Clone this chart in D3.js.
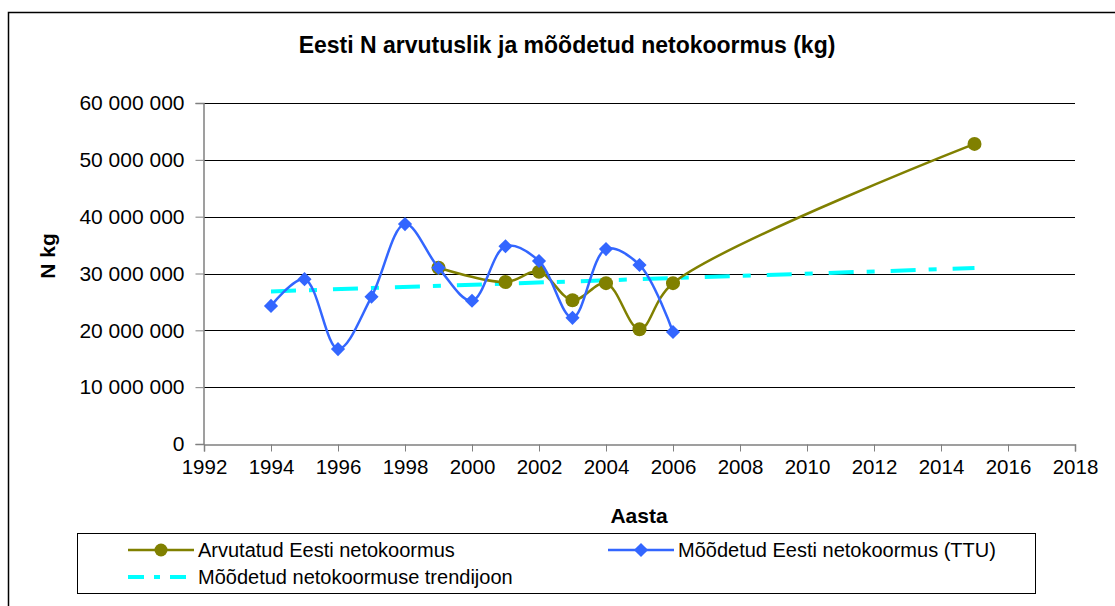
<!DOCTYPE html>
<html>
<head>
<meta charset="utf-8">
<script src="https://cdn.jsdelivr.net/npm/d3@7"></script>
<style>
  body { margin: 0; background: #fff; }
  svg text { font-family: "Liberation Sans", Arial, sans-serif; fill: #000; }
</style>
</head>
<body>
<div id="chart"></div>
<script>
// data
const computedYears = [1999, 2001, 2002, 2003, 2004, 2005, 2006, 2015];
const computedValues = [31000000, 28500000, 30300000, 25300000, 28300000, 20200000, 28300000, 52800000];

const measuredYears = [1994, 1995, 1996, 1997, 1998, 1999, 2000, 2001, 2002, 2003, 2004, 2005, 2006];
const measuredValues = [24300000, 29000000, 16700000, 25900000, 38700000, 31000000, 25200000,
                        34800000, 32200000, 22200000, 34300000, 31500000, 19700000];

const trendYears = [1994, 2015];
const trendValues = [26850000, 30950000];

const xTicks = [1992, 1994, 1996, 1998, 2000, 2002, 2004, 2006, 2008, 2010, 2012, 2014, 2016, 2018];
const yTicks = [0, 10000000, 20000000, 30000000, 40000000, 50000000, 60000000];

const seriesNames = ["Arvutatud Eesti netokoormus", "Mõõdetud Eesti netokoormus (TTU)", "Mõõdetud netokoormuse trendijoon"];

const W = 1115, H = 606;
const plot = { left: 204, right: 1075, top: 103, bottom: 444 };

const svg = d3.select("#chart").append("svg")
    .attr("width", W)
    .attr("height", H);

// outer frame
svg.append("rect")
    .attr("x", 8.5).attr("y", 12.5)
    .attr("width", W + 20).attr("height", H + 20)
    .attr("fill", "#fff")
    .attr("stroke", "#000")
    .attr("stroke-width", 1.5);

const x = d3.scaleLinear().domain([1992, 2018]).range([plot.left, plot.right]);
const y = d3.scaleLinear().domain([0, 60000000]).range([plot.bottom, plot.top]);

const loc = d3.formatLocale({ decimal: ",", thousands: " ", grouping: [3], currency: ["", ""] });
const fmt = loc.format(",d");

// title
svg.append("text")
    .attr("x", 567).attr("y", 53)
    .attr("text-anchor", "middle")
    .style("font-size", "23px")
    .style("font-weight", "bold")
    .text("Eesti N arvutuslik ja mõõdetud netokoormus (kg)");

// gridlines
svg.append("g").selectAll("line")
    .data(yTicks.filter(d => d > 0))
    .enter().append("line")
    .attr("x1", plot.left).attr("x2", plot.right)
    .attr("y1", d => Math.round(y(d)) + 0.5)
    .attr("y2", d => Math.round(y(d)) + 0.5)
    .attr("stroke", "#000")
    .attr("stroke-width", 1);

// y axis
const yAxis = svg.append("g")
    .attr("transform", "translate(" + (plot.left - 0.5) + ",0)")
    .call(d3.axisLeft(y).tickValues(yTicks).tickFormat(fmt).tickSizeOuter(0).tickSize(8).tickPadding(11));
yAxis.select(".domain").attr("stroke", "#808080").attr("stroke-width", 1.5);
yAxis.selectAll("line").attr("stroke", "#808080");
yAxis.selectAll("text").style("font-size", "21px").attr("fill", "#000");

// x axis
const xAxis = svg.append("g")
    .attr("transform", "translate(0," + (plot.bottom + 0.5) + ")")
    .call(d3.axisBottom(x).tickValues(xTicks).tickFormat(d3.format("d")).tickSizeOuter(0).tickSize(7).tickPadding(8));
xAxis.select(".domain").attr("stroke", "#808080").attr("stroke-width", 1.5);
xAxis.selectAll("line").attr("stroke", "#808080");
xAxis.selectAll("text").style("font-size", "20.5px").attr("fill", "#000");

// axis titles
svg.append("text")
    .attr("x", 639).attr("y", 523)
    .attr("text-anchor", "middle")
    .style("font-size", "21px")
    .style("font-weight", "bold")
    .text("Aasta");

svg.append("text")
    .attr("transform", "translate(55,256) rotate(-90)")
    .attr("text-anchor", "middle")
    .style("font-size", "21px")
    .style("font-weight", "bold")
    .text("N kg");

const smooth = d3.line()
    .x(d => x(d[0]))
    .y(d => y(d[1]))
    .curve(d3.curveCatmullRom.alpha(0.5));

const computed = computedYears.map((d, i) => [d, computedValues[i]]);
const measured = measuredYears.map((d, i) => [d, measuredValues[i]]);
const trend = trendYears.map((d, i) => [d, trendValues[i]]);

const olive = "#808000", blue = "#3366ff", cyan = "#00ffff";
const trendDash = "25,13,8,16";

// trend line
svg.append("path")
    .datum(trend)
    .attr("d", d3.line().x(d => x(d[0])).y(d => y(d[1])))
    .attr("fill", "none")
    .attr("stroke", cyan)
    .attr("stroke-width", 4)
    .attr("stroke-dasharray", trendDash);

// computed series
svg.append("path")
    .datum(computed)
    .attr("d", smooth)
    .attr("fill", "none")
    .attr("stroke", olive)
    .attr("stroke-width", 2.5);

svg.append("g").selectAll("circle")
    .data(computed)
    .enter().append("circle")
    .attr("cx", d => x(d[0]))
    .attr("cy", d => y(d[1]))
    .attr("r", 7)
    .attr("fill", olive);

// measured series
svg.append("path")
    .datum(measured)
    .attr("d", smooth)
    .attr("fill", "none")
    .attr("stroke", blue)
    .attr("stroke-width", 2.5);

const diamond = d3.symbol().type(d3.symbolSquare).size(100);
svg.append("g").selectAll("path")
    .data(measured)
    .enter().append("path")
    .attr("d", diamond)
    .attr("transform", d => "translate(" + x(d[0]) + "," + y(d[1]) + ") rotate(45)")
    .attr("fill", blue);

// legend
const legend = svg.append("g");
legend.append("rect")
    .attr("x", 77.5).attr("y", 533.5)
    .attr("width", 958).attr("height", 60)
    .attr("fill", "#fff")
    .attr("stroke", "#000")
    .attr("stroke-width", 1);

const legendItems = [
    { name: seriesNames[0], lx: 128, ly: 550, color: olive, marker: "circle" },
    { name: seriesNames[1], lx: 608, ly: 550, color: blue, marker: "diamond" },
    { name: seriesNames[2], lx: 128, ly: 577, color: cyan, marker: "none" }
];

legendItems.forEach(it => {
    const g = legend.append("g");
    if (it.marker === "none") {
        g.append("line")
            .attr("x1", it.lx).attr("x2", it.lx + 66)
            .attr("y1", it.ly).attr("y2", it.ly)
            .attr("stroke", it.color)
            .attr("stroke-width", 4)
            .attr("stroke-dasharray", "16,10,6,10");
    } else {
        g.append("line")
            .attr("x1", it.lx).attr("x2", it.lx + 66)
            .attr("y1", it.ly).attr("y2", it.ly)
            .attr("stroke", it.color)
            .attr("stroke-width", 2.5);
        if (it.marker === "circle") {
            g.append("circle")
                .attr("cx", it.lx + 33).attr("cy", it.ly)
                .attr("r", 6.5).attr("fill", it.color);
        } else {
            g.append("path")
                .attr("d", diamond)
                .attr("transform", "translate(" + (it.lx + 33) + "," + it.ly + ") rotate(45)")
                .attr("fill", it.color);
        }
    }
    g.append("text")
        .attr("x", it.lx + 70).attr("y", it.ly)
        .attr("dy", "0.35em")
        .style("font-size", "20px")
        .text(it.name);
});
</script>
</body>
</html>
